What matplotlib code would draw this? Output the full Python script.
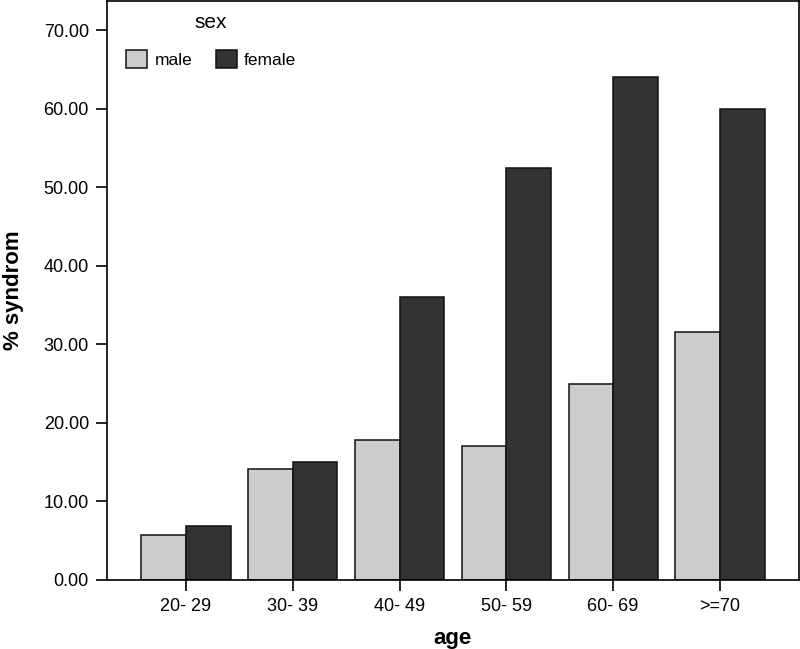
import matplotlib
matplotlib.use("Agg")
import matplotlib.pyplot as plt
import numpy as np

categories = ["20- 29", "30- 39", "40- 49", "50- 59", "60- 69", ">=70"]
male = [5.7, 14.1, 17.8, 17.1, 25.0, 31.6]
female = [6.9, 15.0, 36.0, 52.5, 64.0, 60.0]
yticks = [0, 10, 20, 30, 40, 50, 60, 70]

plt.rcParams['font.family'] = ['Liberation Sans', 'DejaVu Sans']

fig = plt.figure(figsize=(8, 6.49), dpi=100)
ax = fig.add_axes([107/800, 69/649, 692/800, 579/649])

x = np.arange(len(categories))
w = 0.418
ax.bar(x - w/2, male, width=w, color="#cccccc", edgecolor="#111111", linewidth=1.1, label="male")
ax.bar(x + w/2, female, width=w, color="#333333", edgecolor="#111111", linewidth=1.1, label="female")

ax.set_xlim(-0.74, len(categories) - 1 + 0.74)
ax.set_ylim(0, 73.7)
ax.set_xticks(x)
ax.set_xticklabels(categories, fontsize=13)
ax.set_yticks(yticks)
ax.set_yticklabels([f"{v:.2f}" for v in yticks], fontsize=13)
ax.tick_params(axis='both', direction='out', length=8, width=1.2, pad=5, color='black')

for s in ax.spines.values():
    s.set_linewidth(1.2)

ax.set_xlabel("age", fontsize=16, fontweight='bold', labelpad=9)
ax.set_ylabel("% syndrom", fontsize=16, fontweight='bold', labelpad=14)

leg = ax.legend(title="sex", ncol=2, frameon=False, fontsize=12.5, title_fontsize=15,
                loc='upper left', bbox_to_anchor=(0.022, 0.985),
                handlelength=1.25, handleheight=1.3, handletextpad=0.4,
                columnspacing=1.35, borderpad=0.2, borderaxespad=0.0,
                labelspacing=1.0)
for h in leg.legend_handles:
    h.set_edgecolor("#111111")
    h.set_linewidth(1.1)

fig.savefig("out.png", dpi=100)
